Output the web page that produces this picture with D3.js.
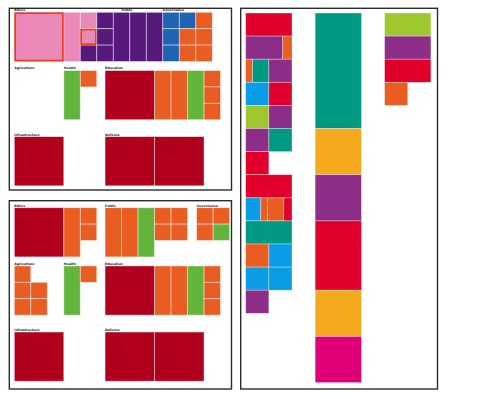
<!DOCTYPE html>
<html>
<head>
<meta charset="utf-8">
<script src="https://cdn.jsdelivr.net/npm/d3@7/dist/d3.min.js"></script>
<style>
  html, body { margin: 0; padding: 0; background: #fff; }
  svg { display: block; }
</style>
</head>
<body>
<svg id="chart" width="500" height="399"></svg>
<script>
// ---------------- DATA ----------------
// palette keys
const colorKeys = ["pink", "plum", "navy", "orange", "crimson", "green",
                   "red", "purple", "teal", "sky", "lime", "amber", "magenta"];
const colorValues = ["#ea88b8", "#57197c", "#1f64b3", "#e95c22", "#b1001d", "#63b43a",
                     "#e1002c", "#8c2e88", "#009a82", "#0a9de6", "#9dc72c", "#f5aa1e", "#df0078"];

// Left panels: group labels
const topLabels = ["Ethics", "Public", "Governance", "Agriculture", "Health", "Education", "Infrastructure", "Defence"];
const bottomLabels = ["Ethics", "Public", "Governance", "Agriculture", "Health", "Education", "Infrastructure", "Defence"];

// cells per group: [col, row, colSpan, rowSpan, colour, highlighted]
const topCells = [
  [[0,0,3,3,"pink",1],[3,0,1,3,"pink",0],[4,0,1,1,"pink",0],[4,1,1,1,"pink",1],[4,2,1,1,"plum",0]],
  [[0,0,1,1,"plum",0],[0,1,1,1,"plum",0],[0,2,1,1,"plum",0],[1,0,1,3,"plum",0],[2,0,1,3,"plum",0],[3,0,1,3,"plum",0]],
  [[0,0,1,1,"navy",0],[0,1,1,1,"navy",0],[0,2,1,1,"navy",0],[1,0,1,1,"navy",0],[1,1,1,1,"orange",0],[1,2,1,1,"orange",0],
   [2,0,1,1,"orange",0],[2,1,1,1,"orange",0],[2,2,1,1,"orange",0]],
  [],
  [[0,0,1,3,"green",0],[1,0,1,1,"orange",0]],
  [[0,0,3,3,"crimson",0],[3,0,1,3,"orange",0],[4,0,1,3,"orange",0],[5,0,1,3,"green",0],
   [6,0,1,1,"orange",0],[6,1,1,1,"orange",0],[6,2,1,1,"orange",0]],
  [[0,0,3,3,"crimson",0]],
  [[0,0,3,3,"crimson",0],[3,0,3,3,"crimson",0]]
];
const bottomCells = [
  [[0,0,3,3,"crimson",0],[3,0,1,3,"orange",0],[4,0,1,1,"orange",0],[4,1,1,1,"orange",0]],
  [[0,0,1,3,"orange",0],[1,0,1,3,"orange",0],[2,0,1,3,"green",0],[3,0,1,1,"orange",0],[3,1,1,1,"orange",0],
   [4,0,1,1,"orange",0],[4,1,1,1,"orange",0]],
  [[0,0,1,1,"orange",0],[0,1,1,1,"orange",0],[1,0,1,1,"orange",0],[1,1,1,1,"green",0]],
  [[0,0,1,1,"orange",0],[0,1,1,1,"orange",0],[0,2,1,1,"orange",0],[1,1,1,1,"orange",0],[1,2,1,1,"orange",0]],
  [[0,0,1,3,"green",0],[1,0,1,1,"orange",0]],
  [[0,0,3,3,"crimson",0],[3,0,1,3,"orange",0],[4,0,1,3,"orange",0],[5,0,1,3,"green",0],
   [6,0,1,1,"orange",0],[6,1,1,1,"orange",0],[6,2,1,1,"orange",0]],
  [[0,0,3,3,"crimson",0]],
  [[0,0,3,3,"crimson",0],[3,0,3,3,"crimson",0]]
];

// Right panel: first column rows, each row = segments [width, colour]
const stackRows = [
  [[2,"red"]],
  [[1.6,"purple"],[0.4,"orange"]],
  [[0.3,"orange"],[0.7,"teal"],[1,"purple"]],
  [[1,"sky"],[1,"red"]],
  [[1,"lime"],[1,"purple"]],
  [[1,"purple"],[1,"teal"]],
  [[1,"red"]],
  [[2,"red"]],
  [[0.65,"sky"],[0.3,"orange"],[0.7,"orange"],[0.35,"red"]],
  [[2,"teal"]],
  [[1,"orange"],[1,"sky"]],
  [[1,"sky"],[1,"sky"]],
  [[1,"purple"]]
];
// Right panel: middle column, each block = [rows tall, colour]
const tallBlocks = [[5,"teal"],[2,"amber"],[2,"purple"],[3,"red"],[2,"amber"],[2,"magenta"]];
// Right panel: third column rows
const shortRows = [
  [[2,"lime"]],
  [[2,"purple"]],
  [[2,"red"]],
  [[1,"orange"]]
];

// ---------------- LAYOUT (not data) ----------------
const groupCol  = [0, 5, 9, 0, 3, 5.5, 0, 5.5];
const groupBand = [0, 0, 0, 1, 1, 1, 2, 2];
const topLabelCol    = [0, 6.5, 9, 0, 3, 5.5, 0, 5.5];
const bottomGroupCol = [0, 5.5, 11.05, 0, 3, 5.5, 0, 5.5];
const bandOffset = [0, 3.55, 7.58];

const color = d3.scaleOrdinal().domain(colorKeys).range(colorValues);
const svg = d3.select("#chart");
svg.append("rect").attr("width", 500).attr("height", 399).attr("fill", "#fff");

function drawPanel(frame, originX, originY, cellsArr, labels, cols, labelCols) {
  const g = svg.append("g");
  const ux = 16.5, uy = 16.4;
  const x = d3.scaleLinear().domain([0, 14]).range([originX, originX + 14 * ux]);
  const y = d3.scaleLinear().domain([0, 11]).range([originY, originY + 11 * uy]);

  g.append("rect")
    .attr("x", frame[0]).attr("y", frame[1])
    .attr("width", frame[2]).attr("height", frame[3])
    .attr("fill", "#fff").attr("stroke", "#2b2b2b").attr("stroke-width", 1.4);

  cellsArr.forEach((cells, gi) => {
    const gx = cols[gi], gy = bandOffset[groupBand[gi]];
    const grp = g.append("g");
    grp.selectAll("rect.cell").data(cells).join("rect")
      .attr("class", "cell")
      .attr("x", d => x(gx + d[0]))
      .attr("y", d => y(gy + d[1]))
      .attr("width", d => x(gx + d[0] + d[2]) - x(gx + d[0]))
      .attr("height", d => y(gy + d[1] + d[3]) - y(gy + d[1]))
      .attr("fill", d => color(d[4]))
      .attr("stroke", "rgba(255,255,255,0.55)")
      .attr("stroke-width", 0.8);
    grp.selectAll("rect.hl").data(cells.filter(d => d[5])).join("rect")
      .attr("class", "hl")
      .attr("x", d => x(gx + d[0]) + 0.9)
      .attr("y", d => y(gy + d[1]) + 0.9)
      .attr("width", d => x(gx + d[0] + d[2]) - x(gx + d[0]) - 1.8)
      .attr("height", d => y(gy + d[1] + d[3]) - y(gy + d[1]) - 1.8)
      .attr("fill", "none")
      .attr("stroke", "#e8401c")
      .attr("stroke-width", 1.7);
    g.append("text")
      .attr("x", x(labelCols[gi]))
      .attr("y", y(gy) - 1.1)
      .attr("font-family", "DejaVu Sans, sans-serif")
      .attr("font-size", 3.2)
      .attr("font-weight", "bold")
      .attr("fill", "#222")
      .text(labels[gi]);
  });
}

drawPanel([9.3, 8.3, 222.2, 181.7], 14.3, 12.3, topCells, topLabels, groupCol, topLabelCol);
drawPanel([9.3, 200.7, 222.2, 188.3], 14.3, 207.7, bottomCells, bottomLabels, bottomGroupCol, bottomGroupCol);

// right panel
(function () {
  const g = svg.append("g");
  g.append("rect")
    .attr("x", 240.7).attr("y", 8.3).attr("width", 196.8).attr("height", 380.7)
    .attr("fill", "#fff").attr("stroke", "#2b2b2b").attr("stroke-width", 1.4);
  const u = 23.15, uy = 23.1;
  const x = d3.scaleLinear().domain([0, 8]).range([245.7, 245.7 + 8 * u]);
  const y = d3.scaleLinear().domain([0, 16]).range([13, 13 + 16 * uy]);

  function rowsToSegs(rows, colStart) {
    const segs = [];
    rows.forEach((row, ri) => {
      let cum = 0;
      row.forEach(s => { segs.push({ x0: colStart + cum, x1: colStart + cum + s[0], y0: ri, y1: ri + 1, c: s[1] }); cum += s[0]; });
    });
    return segs;
  }
  const segs = rowsToSegs(stackRows, 0).concat(rowsToSegs(shortRows, 6));
  let cum = 0;
  tallBlocks.forEach(b => { segs.push({ x0: 3, x1: 5, y0: cum, y1: cum + b[0], c: b[1] }); cum += b[0]; });

  g.selectAll("rect.seg").data(segs).join("rect")
    .attr("class", "seg")
    .attr("x", d => x(d.x0)).attr("y", d => y(d.y0))
    .attr("width", d => x(d.x1) - x(d.x0))
    .attr("height", d => y(d.y1) - y(d.y0))
    .attr("fill", d => color(d.c))
    .attr("stroke", "rgba(255,255,255,0.45)")
    .attr("stroke-width", 0.7);
})();
</script>
</body>
</html>
